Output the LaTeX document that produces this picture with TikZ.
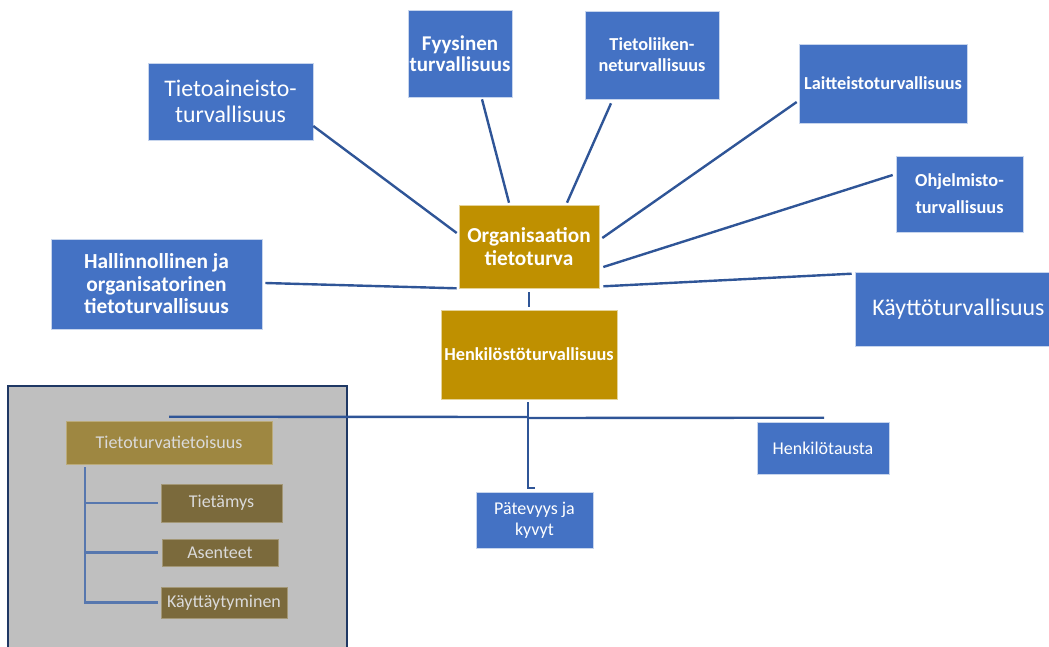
\documentclass[tikz,border=0pt]{standalone}
\usepackage{fontspec}
\setmainfont{Carlito}
\definecolor{sininen}{HTML}{4472C4}
\definecolor{kulta}{HTML}{BF9000}
\definecolor{viiva}{HTML}{2F5597}
\definecolor{harmaa}{HTML}{BFBFBF}
\definecolor{reuna}{HTML}{1F3864}
\definecolor{himkulta}{HTML}{9E8741}
\definecolor{tumkulta}{HTML}{7B6A3C}
\definecolor{himteksti}{HTML}{DADADA}
\definecolor{himviiva}{HTML}{5777AE}
\newcommand{\koko}[2]{\fontsize{#1}{#2}\selectfont}
\tikzset{
        laatikko/.style={rectangle, fill=sininen, draw=white!70!sininen, line width=0.6pt,
                text=white, align=center, inner sep=0pt},
        kultainen/.style={laatikko, fill=kulta, draw=white!60!kulta},
        himmea/.style={laatikko, fill=tumkulta, draw=white!30!tumkulta, text=himteksti},
        yhteys/.style={draw=viiva, line width=2.4pt},
        puu/.style={draw=himviiva, line width=2.4pt}
}
\begin{document}
\begin{tikzpicture}[x=1pt,y=-1pt]
        \useasboundingbox (0,0) rectangle (1049,646);
        \node[fill=harmaa, draw=reuna, line width=2pt, minimum width=339pt, minimum height=290pt, inner sep=0pt] (ryhma) at (177.5,531) {};
        \node[kultainen, minimum width=140pt, minimum height=83pt, font=\koko{21.3}{23}\bfseries] (org) at (529,246.5) {Organisaation\\tietoturva};
        \node[kultainen, minimum width=176pt, minimum height=89pt, font=\koko{18.3}{21}\bfseries] (henk) at (529,354.5) {Henkilöstöturvallisuus};
        \node[laatikko, minimum width=165pt, minimum height=77pt, font=\koko{23.8}{26}] (aineisto) at (230.5,101.5) {Tietoaineisto-\\turvallisuus};
        \node[laatikko, minimum width=104pt, minimum height=87pt, font=\koko{21}{21}\bfseries] (fyysinen) at (460,53.5) {Fyysinen\\turvallisuus};
        \node[laatikko, minimum width=134pt, minimum height=88pt, font=\koko{18.3}{21}\bfseries] (liikenne) at (652,55) {Tietoliiken-\\neturvallisuus};
        \node[laatikko, minimum width=168pt, minimum height=79pt, font=\koko{18.3}{21}\bfseries] (laitteisto) at (883,83.5) {Laitteistoturvallisuus};
        \node[laatikko, minimum width=127pt, minimum height=76pt, font=\koko{18.3}{27}\bfseries] (ohjelmisto) at (959.5,194) {Ohjelmisto-\\turvallisuus};
        \node[laatikko, minimum width=207pt, minimum height=74pt, font=\koko{23.8}{26}] (kaytto) at (958.5,309) {Käyttöturvallisuus};
        \node[laatikko, minimum width=211pt, minimum height=90pt, font=\koko{21.4}{22.5}\bfseries] (hallinto) at (156.5,284) {Hallinnollinen ja\\organisatorinen\\tietoturvallisuus};
        \node[laatikko, minimum width=117pt, minimum height=56pt, font=\koko{18}{21}] (patevyys) at (534.5,520) {Pätevyys ja\\kyvyt};
        \node[laatikko, minimum width=132pt, minimum height=52pt, font=\koko{18}{21}] (tausta) at (823,448) {Henkilötausta};
        \node[himmea, fill=himkulta, draw=white!30!himkulta, minimum width=206pt, minimum height=43pt, font=\koko{18}{21}] (tietoisuus) at (169,442.5) {Tietoturvatietoisuus};
        \node[himmea, minimum width=121pt, minimum height=38pt, font=\koko{18}{21}] (tietamys) at (221.5,503) {Tietämys};
        \node[himmea, minimum width=116pt, minimum height=27pt, font=\koko{18}{21}] (asenteet) at (220,552.5) {Asenteet};
        \node[himmea, minimum width=126pt, minimum height=31pt, font=\koko{18}{21}] (kayttaytyminen) at (224,602.5) {Käyttäytyminen};
        \coordinate (haara) at (528,417);
        \draw[yhteys] ([yshift=-24.5pt]aineisto.east) -- ([xshift=-2pt,yshift=13.5pt]org.west);
        \draw[yhteys] ([xshift=22pt,yshift=-2pt]fyysinen.south) -- ([xshift=-20pt,yshift=2pt]org.north);
        \draw[yhteys] ([xshift=-41pt,yshift=-4pt]liikenne.south) -- ([xshift=38pt,yshift=2pt]org.north);
        \draw[yhteys] ([xshift=-2pt,yshift=-18.5pt]laitteisto.west) -- ([xshift=3pt,yshift=8.5pt]org.east);
        \draw[yhteys] ([xshift=-3pt,yshift=19pt]ohjelmisto.west) -- ([xshift=4pt,yshift=-20.5pt]org.east);
        \draw[yhteys] ([xshift=-3pt,yshift=-2pt]kaytto.north west) -- ([xshift=4pt,yshift=2pt]org.south east);
        \draw[yhteys] ([xshift=3pt,yshift=1pt]hallinto.east) -- ([xshift=-2pt]org.south west);
        \draw[yhteys] ([yshift=-4pt]org.south) -- ([yshift=3pt]henk.north);
        \draw[yhteys] ([xshift=-1pt,yshift=-3pt]henk.south) |- ([xshift=0.5pt,yshift=4pt]patevyys.north);
        \draw[yhteys] ([yshift=4pt]tietoisuus.north) -- (haara);
        \draw[yhteys] ([yshift=-1pt]haara) -- ([xshift=1pt,yshift=4pt]tausta.north);
        \draw[puu] ([xshift=19pt,yshift=-3pt]tietoisuus.south west) |- ([xshift=-3pt]tietamys.west);
        \draw[puu] ([xshift=19pt,yshift=-3pt]tietoisuus.south west) |- ([xshift=-4pt]asenteet.west);
        \draw[puu] ([xshift=19pt,yshift=-3pt]tietoisuus.south west) |- ([xshift=-3pt]kayttaytyminen.west);
\end{tikzpicture}
\end{document}
